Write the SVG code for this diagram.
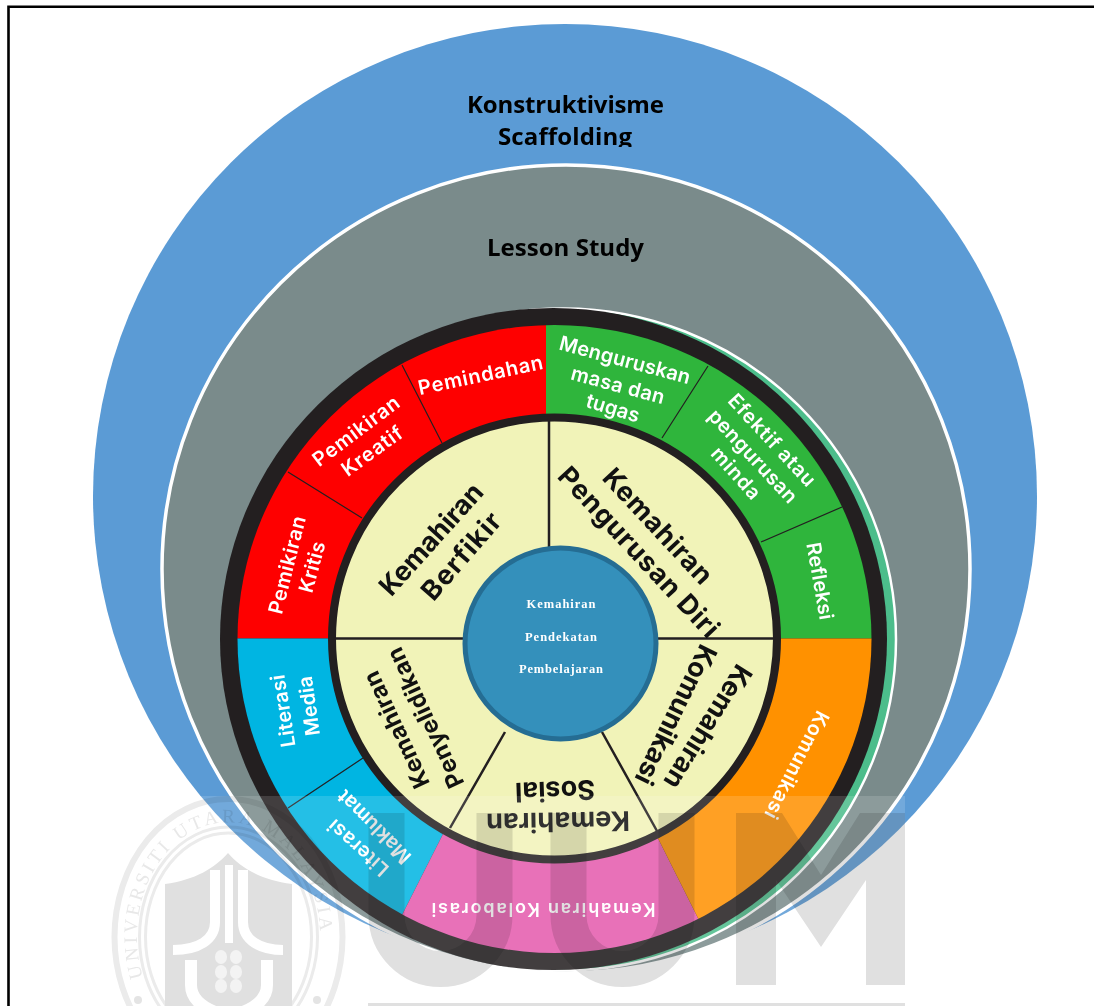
<svg xmlns="http://www.w3.org/2000/svg" width="1094" height="1006" viewBox="0 0 1094 1006">
<style>
.h{font-family:"Open Sans","Noto Sans",sans-serif;font-weight:700;font-size:24px;fill:#000;text-anchor:middle}
.w{font-family:Inter,"Open Sans",sans-serif;font-weight:600;font-size:20px;fill:#fff;text-anchor:middle;dominant-baseline:central}
.k{font-size:18px}
.b{font-family:Inter,"Open Sans",sans-serif;font-weight:700;font-size:27px;fill:#111;text-anchor:middle;dominant-baseline:central}
.p{font-size:23.5px}
.c{font-family:"Liberation Serif",serif;font-weight:700;font-size:12.5px;fill:#fff;text-anchor:middle;dominant-baseline:central}
.thin{stroke:#231f20;stroke-width:1.2;fill:none}
.div{stroke:#231f20;stroke-width:2.5;fill:none}
.mult{mix-blend-mode:multiply}
.wm{fill:#e0e0e0}
</style>
<defs>
<clipPath id="ringClip"><ellipse cx="554.5" cy="639" rx="317" ry="314"/></clipPath>
<clipPath id="scaf"><rect x="400" y="80" width="300" height="67"/></clipPath>
<path id="sealArc" d="M143 977A91.5 114 0 1 1 314 977"/>
</defs>
<rect width="1094" height="1006" fill="#fff"/>
<path d="M8.5 1006V6.8H1094" fill="none" stroke="#000" stroke-width="2.6"/>

<g id="konstruktivisme">
<circle cx="565" cy="496" r="472" fill="#5b9bd5"/>
<text class="h" x="565.5" y="113" textLength="197">Konstruktivisme</text>
<g clip-path="url(#scaf)"><text class="h" x="565" y="145" textLength="134">Scaffolding</text></g>
</g>
<g id="lesson-study">
<circle cx="566" cy="569" r="404" fill="#7a8b8b" stroke="#fff" stroke-width="3.5"/>
<text class="h" x="565.5" y="256" textLength="157">Lesson Study</text>
</g>
<g id="backing"><ellipse cx="563" cy="639.5" rx="333" ry="331" fill="#4cbd8b" stroke="#fff" stroke-width="2.5"/></g>

<g id="wheel-ring">
<ellipse cx="553.5" cy="639" rx="333.5" ry="331" fill="#231f20"/>
</g>
<g id="segments" clip-path="url(#ringClip)">
<polygon points="546,638.5 546,300 200,300 200,638.5" fill="#fe0000"/>
<polygon points="546,638.5 546,300 900,300 900,638.5" fill="#2fb53c"/>
<polygon points="542,638.5 200,638.5 200,1000 359,1000" fill="#00b5e2"/>
<polygon points="542,638.5 359,1000 739,1000 558,638.5" fill="#e55aad"/>
<polygon points="558,638.5 739,1000 900,1000 900,638.5" fill="#ff9100"/>
</g>
<g id="connectors">
<path class="thin" d="M402 365L442 443M288 472L362 518M708 366L662 438M842 507L761 542M363 758L288 808"/>
</g>
<g id="inner-wheel">
<ellipse cx="554.5" cy="638.5" rx="222.5" ry="221" fill="#f1f3b8" stroke="#231f20" stroke-width="8"/>
<path class="div" d="M549 418V550M333 638.5H470M650 638.5H776M505 732L450 828M602 732L657 831"/>
</g>
<g id="center">
<circle cx="560.5" cy="643.5" r="95.5" fill="#3490bb" stroke="#256d93" stroke-width="5"/>
<text class="c" x="561" y="604" textLength="69">Kemahiran</text>
<text class="c" x="561" y="637" textLength="72">Pendekatan</text>
<text class="c" x="561" y="669" textLength="84">Pembelajaran</text>
</g>

<g id="kemahiran-berfikir">
<text class="b" transform="translate(431 539) rotate(-48)" textLength="140">Kemahiran</text>
<text class="b" transform="translate(461 556) rotate(-49)" textLength="106">Berfikir</text>
<text class="w" transform="translate(480.5 375) rotate(-12)" textLength="127">Pemindahan</text>
<text class="w" transform="translate(356 431) rotate(-37)" textLength="103">Pemikiran</text>
<text class="w" transform="translate(372 451) rotate(-36)" textLength="70">Kreatif</text>
<text class="w" transform="translate(287 565) rotate(-76)" textLength="100">Pemikiran</text>
<text class="w" transform="translate(312 567) rotate(-75)" textLength="52">Kritis</text>
</g>
<g id="kemahiran-pengurusan-diri">
<text class="b" transform="translate(658 526) rotate(47)" textLength="147">Kemahiran</text>
<text class="b" transform="translate(639 552) rotate(47)" textLength="222">Pengurusan Diri</text>
<text class="w" transform="translate(625 360) rotate(15)" textLength="135">Menguruskan</text>
<text class="w" transform="translate(618 385) rotate(15)" textLength="96">masa dan</text>
<text class="w" transform="translate(613 408) rotate(17)" textLength="55">tugas</text>
<text class="w" transform="translate(772 440) rotate(47)" textLength="118">Efektif atau</text>
<text class="w" transform="translate(753 456) rotate(47)" textLength="120">pengurusan</text>
<text class="w" transform="translate(736 473) rotate(48)" textLength="63">minda</text>
<text class="w" transform="translate(820 581) rotate(80)" textLength="78">Refleksi</text>
</g>
<g id="kemahiran-komunikasi">
<text class="b" transform="translate(708 727) rotate(122)" textLength="141">Kemahiran</text>
<text class="b" transform="translate(676 715) rotate(116)" textLength="152">Komunikasi</text>
<text class="w" transform="translate(797 765) rotate(117)" textLength="118">Komunikasi</text>
</g>
<g id="kemahiran-sosial">
<text class="b" transform="translate(558 822) rotate(179)" textLength="144">Kemahiran</text>
<text class="b" transform="translate(555 791) rotate(178)" textLength="80">Sosial</text>
<text class="w k" transform="translate(543.5 909) rotate(180)" textLength="224">Kemahiran Kolaborasi</text>
</g>
<g id="kemahiran-penyelidikan">
<text class="b p" transform="translate(396 730) rotate(-115)" textLength="126">Kemahiran</text>
<text class="b p" transform="translate(425 718) rotate(-115)" textLength="152">Penyelidikan</text>
<text class="w" transform="translate(283 711) rotate(-99)" textLength="73">Literasi</text>
<text class="w" transform="translate(309 706) rotate(-98)" textLength="60">Media</text>
<text class="w" transform="translate(358 848) rotate(-138)" textLength="74">Literasi</text>
<text class="w" transform="translate(374 827) rotate(-135)" textLength="95">Maklumat</text>
</g>

<g id="watermark">
<rect x="110" y="796" width="795" height="210" fill="#fff" fill-opacity=".14"/>
<g class="mult">
<polygon class="wm" points="736,813 782,813 821,875 860,813 905,813 905,985 866,985 866,880 821,947 776,880 776,985 736,985"/>
<path d="M386.5 813V915A54 54 0 0 0 494.5 915V813M568.5 813V915A54 54 0 0 0 676.5 915V813" fill="none" stroke="#e0e0e0" stroke-width="36"/>
<rect class="wm" x="368" y="1003" width="537" height="3"/>
<g fill="none" stroke="#ebebeb">
<ellipse cx="228.5" cy="937" rx="114" ry="138" stroke-width="6"/>
<ellipse cx="228.5" cy="937" rx="89" ry="110" stroke-width="3"/>
<ellipse cx="228.5" cy="937" rx="83" ry="104" stroke-width="3"/>
</g>
<path class="wm" d="M165 884C195 880 215 868 228 853C241 868 261 880 292 884V1006H165Z"/>
<text font-family="'Liberation Serif',serif" font-size="19" fill="#e8e8e8" letter-spacing="3.4"><textPath href="#sealArc">UNIVERSITI UTARA MALAYSIA</textPath></text>
<circle cx="138" cy="1000" r="4" fill="#e4e4e4"/>
<circle cx="317" cy="1000" r="4" fill="#e4e4e4"/>
</g>
<g fill="none" stroke="#fff">
<path d="M215 870V922C215 940 198 950 173 950M243 870V922C243 940 260 950 283 950" stroke-width="10"/>
<path d="M229 865V943" stroke-width="8"/>
<path d="M191 960V985C191 1000 205 1008 215 1012M267 960V985C267 1000 253 1008 243 1012" stroke-width="12"/>
</g>
<g fill="#f3f3f3">
<ellipse cx="221" cy="957" rx="6" ry="7"/><ellipse cx="236" cy="957" rx="6" ry="7"/>
<ellipse cx="221" cy="972" rx="6" ry="7"/><ellipse cx="236" cy="972" rx="6" ry="7"/>
<ellipse cx="221" cy="986" rx="6" ry="7"/><ellipse cx="236" cy="986" rx="6" ry="7"/>
</g>
</g>
</svg>
